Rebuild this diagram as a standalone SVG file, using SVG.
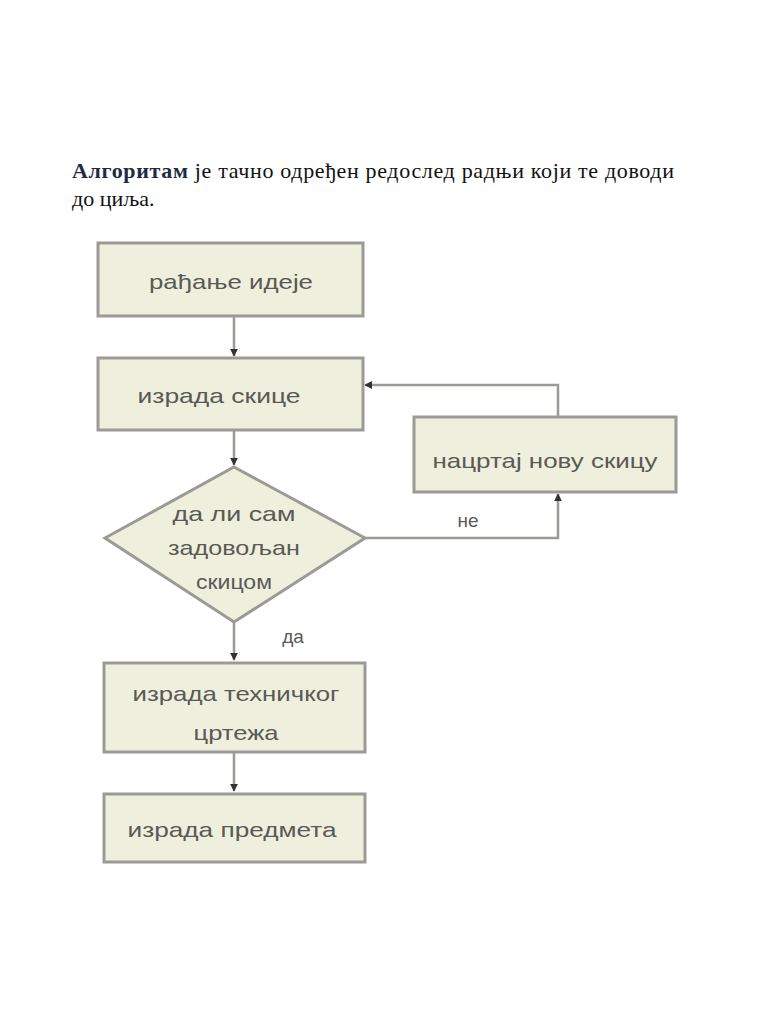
<svg xmlns="http://www.w3.org/2000/svg" width="768" height="1024" viewBox="0 0 768 1024">
<style>
.title{font-family:"Liberation Serif","Times New Roman",serif;font-size:22px;fill:#111}
.node rect,.node polygon{fill:#eef0dd;stroke:#9b9b96;stroke-width:3}
.node text{font-family:"Liberation Sans",Arial,sans-serif;font-size:21px;fill:#5a5a55;text-anchor:middle}
.conn{fill:none;stroke:#9b9b96;stroke-width:2.5}
.lbl{font-family:"Liberation Sans",Arial,sans-serif;font-size:19px;fill:#5a5a55;text-anchor:middle}
</style>
<defs>
<marker id="arr" viewBox="0 0 10 10" refX="9" refY="5" markerWidth="3.2" markerHeight="3.2" orient="auto" markerUnits="strokeWidth">
<path d="M0,0 L10,5 L0,10 z" fill="#333"/>
</marker>
</defs>
<rect width="768" height="1024" fill="#fff"/>
<text class="title" x="72" y="178" textLength="602" lengthAdjust="spacing"><tspan font-weight="bold" fill="#1f2b45">Алгоритам</tspan> је тачно одређен редослед радњи који те доводи</text>
<text class="title" x="72" y="206">до циља.</text>
<g id="connectors">
<path class="conn" d="M234,317 V356" marker-end="url(#arr)"/>
<path class="conn" d="M234,430 V465" marker-end="url(#arr)"/>
<path class="conn" d="M365,538 H558 V494" marker-end="url(#arr)"/>
<path class="conn" d="M558,416 V385 H365" marker-end="url(#arr)"/>
<path class="conn" d="M234,622 V660" marker-end="url(#arr)"/>
<path class="conn" d="M234,752 V791" marker-end="url(#arr)"/>
<text class="lbl" x="468" y="527">не</text>
<text class="lbl" x="293" y="643">да</text>
</g>
<g id="n1" class="node">
<rect x="98" y="243" width="265" height="73"/>
<text x="231" y="289" textLength="164" lengthAdjust="spacingAndGlyphs">рађање идеје</text>
</g>
<g id="n2" class="node">
<rect x="98" y="358" width="265" height="72"/>
<text x="219" y="403" textLength="163" lengthAdjust="spacingAndGlyphs">израда скице</text>
</g>
<g id="n3" class="node">
<rect x="414" y="417" width="262" height="75"/>
<text x="545" y="468" textLength="225" lengthAdjust="spacingAndGlyphs">нацртај нову скицу</text>
</g>
<g id="n4" class="node">
<polygon points="234,467 365,538 234,622 105,538"/>
<text x="234" y="521" textLength="123" lengthAdjust="spacingAndGlyphs">да ли сам</text>
<text x="234" y="555" textLength="132" lengthAdjust="spacingAndGlyphs">задовољан</text>
<text x="234" y="589" textLength="76" lengthAdjust="spacingAndGlyphs">скицом</text>
</g>
<g id="n5" class="node">
<rect x="104" y="663" width="261" height="89"/>
<text x="236" y="701" textLength="207" lengthAdjust="spacingAndGlyphs">израда техничког</text>
<text x="236" y="740" textLength="85" lengthAdjust="spacingAndGlyphs">цртежа</text>
</g>
<g id="n6" class="node">
<rect x="104" y="794" width="261" height="68"/>
<text x="232" y="837" textLength="209" lengthAdjust="spacingAndGlyphs">израда предмета</text>
</g>
</svg>
